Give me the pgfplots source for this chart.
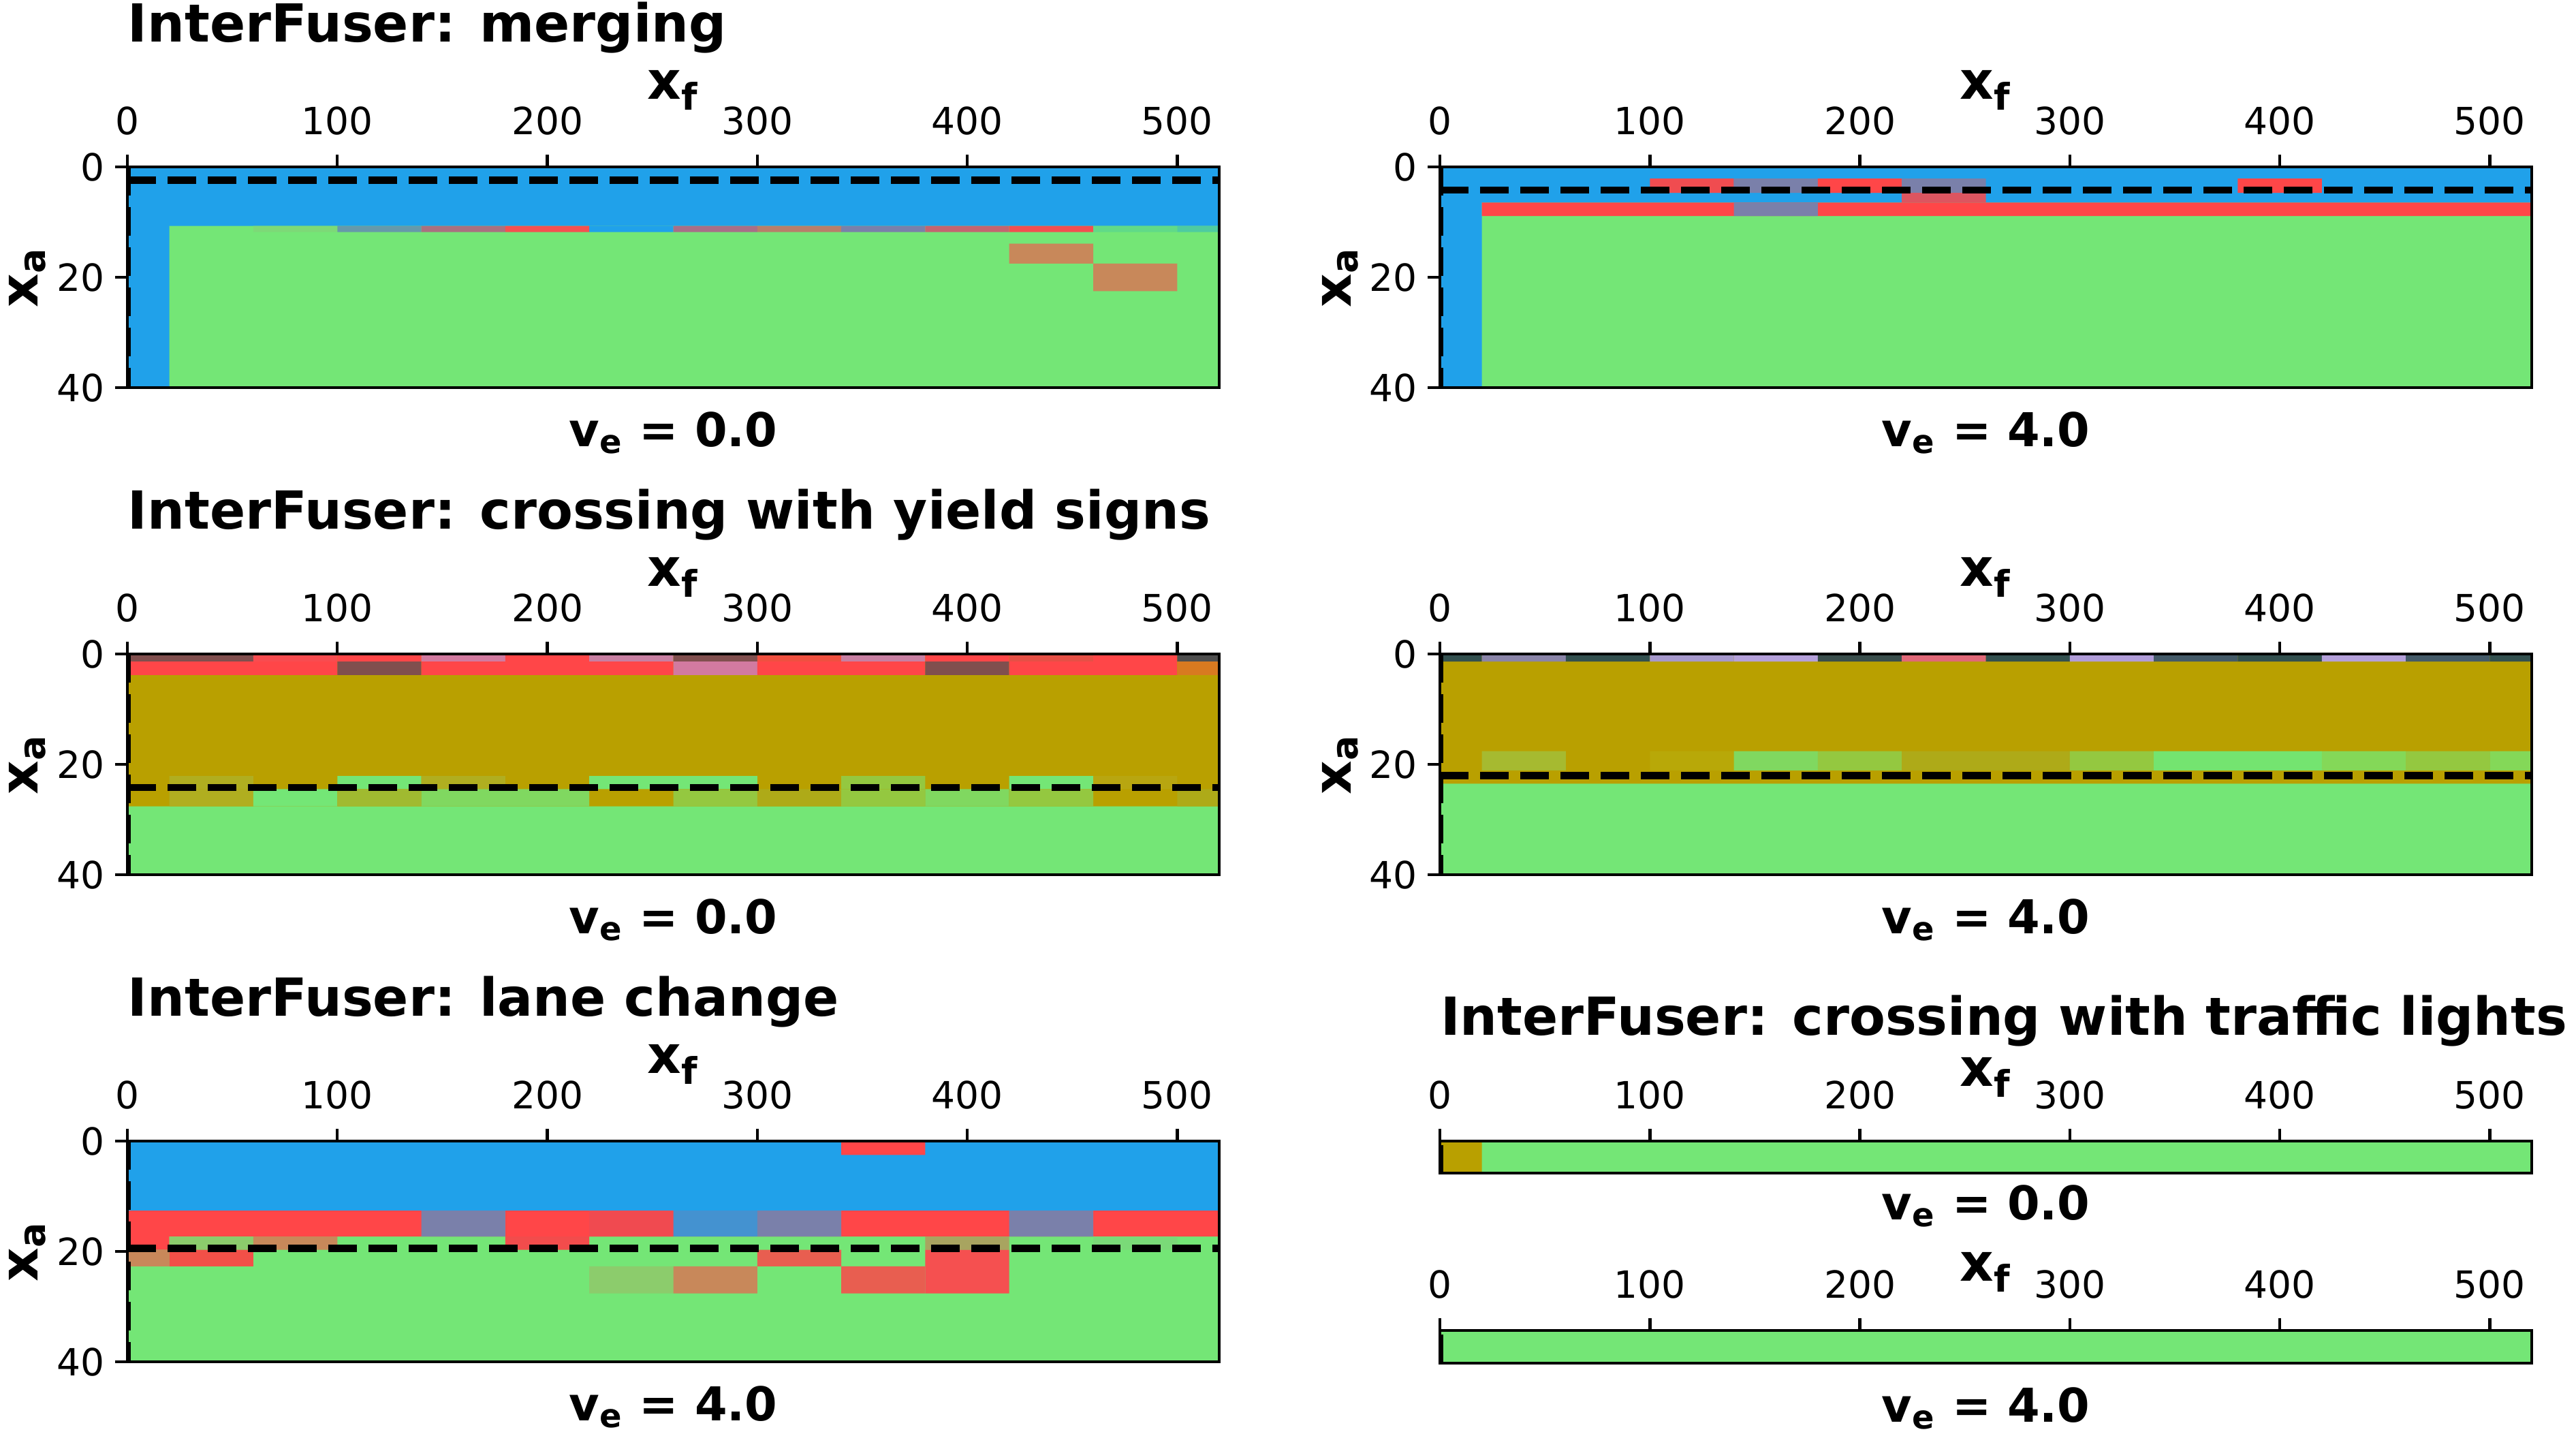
\documentclass[border=0pt]{standalone}
\usepackage{fontspec}
\setmainfont{DejaVu Sans}
\usepackage{pgfplots}
\pgfplotsset{compat=1.18}

\definecolor{G}{RGB}{116,230,118}
\definecolor{B}{RGB}{32,161,234}
\definecolor{R}{RGB}{255,70,72}
\definecolor{O}{RGB}{185,160,0}
\definecolor{Br}{RGB}{200,136,90}
\definecolor{Sl}{RGB}{122,128,170}
\definecolor{Mv}{RGB}{170,112,128}
\definecolor{Db}{RGB}{128,79,78}
\definecolor{Pk}{RGB}{210,122,160}
\definecolor{Tl}{RGB}{51,80,79}
\definecolor{pia}{RGB}{125,217,119}
\definecolor{pib}{RGB}{102,153,170}
\definecolor{pic}{RGB}{245,80,80}
\definecolor{pid}{RGB}{168,110,136}
\definecolor{pie}{RGB}{184,126,106}
\definecolor{pif}{RGB}{196,100,112}
\definecolor{pig}{RGB}{242,78,80}
\definecolor{pih}{RGB}{96,218,136}
\definecolor{pii}{RGB}{78,203,160}
\definecolor{piia}{RGB}{240,76,80}
\definecolor{piib}{RGB}{220,85,96}
\definecolor{piiia}{RGB}{248,76,80}
\definecolor{piiib}{RGB}{200,127,162}
\definecolor{piiic}{RGB}{240,80,64}
\definecolor{piiid}{RGB}{230,80,70}
\definecolor{piiie}{RGB}{78,78,78}
\definecolor{piiif}{RGB}{216,122,32}
\definecolor{ygA}{RGB}{176,174,32}
\definecolor{ygB}{RGB}{148,200,64}
\definecolor{ygC}{RGB}{184,166,16}
\definecolor{ygD}{RGB}{160,186,48}
\definecolor{ygE}{RGB}{128,216,96}
\definecolor{ygF}{RGB}{174,170,24}
\definecolor{pIVa}{RGB}{138,132,168}
\definecolor{pIVb}{RGB}{166,152,204}
\definecolor{pIVc}{RGB}{180,160,218}
\definecolor{pIVd}{RGB}{58,78,76}
\definecolor{pIVe}{RGB}{224,104,120}
\definecolor{pIVf}{RGB}{176,156,216}
\definecolor{pIVg}{RGB}{68,90,104}
\definecolor{pIVh}{RGB}{166,186,48}
\definecolor{pIVi}{RGB}{184,168,8}
\definecolor{pIVj}{RGB}{116,228,112}
\definecolor{pIVk}{RGB}{132,216,88}
\definecolor{pVa}{RGB}{240,74,80}
\definecolor{pVb}{RGB}{68,146,208}
\definecolor{pVc}{RGB}{140,204,108}
\definecolor{pVd}{RGB}{242,76,76}
\definecolor{pVe}{RGB}{168,164,96}
\definecolor{pVf}{RGB}{122,218,120}
\definecolor{pVg}{RGB}{242,80,72}
\definecolor{pVh}{RGB}{232,94,80}
\definecolor{pVi}{RGB}{245,80,80}

% one heat-map cell block: x1 y1 x2 y2 colour
\newcommand{\cell}[5]{\addplot[draw=none,fill=#5,forget plot] coordinates {(#1,#2) (#3,#2) (#3,#4) (#1,#4) (#1,#2)};}
\newcommand{\hdl}[1]{\addplot[black,line width=2.13pt,dash pattern=on 8.3pt off 3.5pt,forget plot] coordinates {(0,#1) (520,#1)};}
\newcommand{\vdl}{\addplot[black,line width=2.13pt,dash pattern=on 8.3pt off 3.5pt,forget plot] coordinates {(0,0) (0,40)};}
\newcommand{\velab}[2]{\node[anchor=base,inner sep=0pt,yshift=-#2,font=\bfseries\fontsize{13.7}{16}\selectfont] at (axis description cs:0.5,0) {v\textsubscript{e} = #1};}

\pgfplotsset{
 hm/.style={
  scale only axis, width=320.6pt, height=64.8pt,
  anchor=north west,
  xmin=0,xmax=520,ymin=0,ymax=40,y dir=reverse,
  axis on top, clip mode=individual,
  xtick={0,100,200,300,400,500}, ytick={0,20,40},
  xtick pos=right, xticklabel pos=right, ytick pos=left,
  tick align=outside, major tick length=3.6pt,
  tick style={line width=0.88pt,black},
  axis line style={line width=0.88pt},
  ticklabel style={font=\fontsize{11}{13}\selectfont},
  xticklabel style={yshift=2.3pt},
  yticklabel style={xshift=0.4pt},
  /pgf/number format/assume math mode=true,
  xlabel={\textbf{x\textsubscript{f}}},
  xlabel style={at={([yshift=20pt]axis description cs:0.5,1)},anchor=base,font=\fontsize{15.4}{18}\selectfont},
  ylabel={\textbf{x\textsubscript{a}}},
  ylabel style={at={([xshift=-26.2pt]axis description cs:0,0.5)},anchor=base,font=\fontsize{15.4}{18}\selectfont},
  title style={at={([yshift=36.8pt]axis description cs:0,1)},anchor=base west,yshift=-6pt,inner xsep=0pt,font=\bfseries\fontsize{15.4}{18}\selectfont},
 },
 xlab/.style={xlabel style={at={([yshift=#1]axis description cs:0.5,1)}}},
 tit/.style={title style={at={([yshift=#1]axis description cs:0,1)}}},
 thinax/.style={hm, ymax=1, ytick=\empty, ylabel={}},
}

\begin{document}
\begin{tikzpicture}
\path[use as bounding box] (0,0) rectangle (756.4pt,-420.8pt);

% ---------------- merging, v=0
\begin{axis}[hm, at={(37.4pt,-49pt)}, title={InterFuser: merging}]
\cell{0}{0}{520}{40}{G}
\cell{0}{0}{520}{10.7}{B}
\cell{0}{0}{20}{40}{B}
\cell{220}{10.7}{260}{11.8}{B}
\cell{60}{10.7}{100}{11.8}{pia}
\cell{100}{10.7}{140}{11.8}{pib}
\cell{140}{10.7}{180}{11.8}{Mv}
\cell{180}{10.7}{220}{11.8}{pic}
\cell{260}{10.7}{300}{11.8}{pid}
\cell{300}{10.7}{340}{11.8}{pie}
\cell{340}{10.7}{380}{11.8}{Sl}
\cell{380}{10.7}{420}{11.8}{pif}
\cell{420}{10.7}{460}{11.8}{pig}
\cell{460}{10.7}{500}{11.8}{pih}
\cell{500}{10.7}{520}{11.8}{pii}
\cell{420}{13.9}{460}{17.5}{Br}
\cell{460}{17.5}{500}{22.5}{Br}
\hdl{2.4}
\vdl
\velab{0.0}{17.2pt}
\end{axis}

% ---------------- merging, v=4
\begin{axis}[hm, at={(422.8pt,-49pt)}]
\cell{0}{0}{520}{40}{G}
\cell{0}{0}{520}{6.45}{B}
\cell{0}{0}{20}{40}{B}
\cell{100}{2.1}{140}{4.7}{piia}
\cell{140}{2.1}{180}{4.7}{Sl}
\cell{180}{2.1}{220}{4.7}{R}
\cell{220}{2.1}{260}{4.7}{Sl}
\cell{380}{2.1}{420}{4.7}{R}
\cell{220}{4.7}{260}{6.45}{piib}
\cell{20}{6.45}{520}{8.9}{R}
\cell{140}{6.45}{180}{8.9}{Sl}
\hdl{4.2}
\vdl
\velab{4.0}{17.2pt}
\end{axis}

% ---------------- crossing with yield signs, v=0
\begin{axis}[hm, at={(37.4pt,-192pt)}, title={InterFuser: crossing with yield signs}]
\cell{0}{0}{520}{40}{G}
\cell{0}{0}{520}{27.6}{O}
% row 0-1.36
\cell{0}{0}{60}{1.36}{Db}
\cell{60}{0}{100}{1.36}{piiia}
\cell{100}{0}{140}{1.36}{R}
\cell{140}{0}{180}{1.36}{Pk}
\cell{180}{0}{220}{1.36}{R}
\cell{220}{0}{260}{1.36}{piiib}
\cell{260}{0}{300}{1.36}{Db}
\cell{300}{0}{340}{1.36}{piiic}
\cell{340}{0}{380}{1.36}{piiib}
\cell{380}{0}{420}{1.36}{R}
\cell{420}{0}{460}{1.36}{piiid}
\cell{460}{0}{500}{1.36}{R}
\cell{500}{0}{520}{1.36}{piiie}
% row 1.36-3.8
\cell{0}{1.36}{100}{3.8}{R}
\cell{100}{1.36}{140}{3.8}{Db}
\cell{140}{1.36}{260}{3.8}{R}
\cell{260}{1.36}{300}{3.8}{Pk}
\cell{300}{1.36}{380}{3.8}{R}
\cell{380}{1.36}{420}{3.8}{Db}
\cell{420}{1.36}{500}{3.8}{R}
\cell{500}{1.36}{520}{3.8}{piiif}
% row 22.1-24.5
\cell{20}{22.1}{60}{24.5}{ygA}
\cell{100}{22.1}{140}{24.5}{G}
\cell{140}{22.1}{180}{24.5}{ygA}
\cell{220}{22.1}{300}{24.5}{G}
\cell{340}{22.1}{380}{24.5}{ygB}
\cell{420}{22.1}{460}{24.5}{G}
\cell{460}{22.1}{500}{24.5}{ygC}
% row 24.5-27.6
\cell{20}{24.5}{60}{27.6}{ygA}
\cell{60}{24.5}{100}{27.6}{G}
\cell{100}{24.5}{140}{27.6}{ygD}
\cell{140}{24.5}{220}{27.6}{ygE}
\cell{260}{24.5}{300}{27.6}{ygB}
\cell{300}{24.5}{340}{27.6}{ygF}
\cell{340}{24.5}{380}{27.6}{ygB}
\cell{380}{24.5}{420}{27.6}{ygE}
\cell{420}{24.5}{460}{27.6}{ygB}
\cell{500}{24.5}{520}{27.6}{ygF}
\hdl{24.2}
\vdl
\velab{0.0}{17.2pt}
\end{axis}

% ---------------- crossing with yield signs, v=4
\begin{axis}[hm, at={(422.8pt,-192pt)}]
\cell{0}{0}{520}{40}{G}
\cell{0}{0}{520}{23.5}{O}
% row 0-1.36
\cell{0}{0}{20}{1.36}{Tl}
\cell{20}{0}{60}{1.36}{pIVa}
\cell{60}{0}{100}{1.36}{Tl}
\cell{100}{0}{140}{1.36}{pIVb}
\cell{140}{0}{180}{1.36}{pIVc}
\cell{180}{0}{220}{1.36}{pIVd}
\cell{220}{0}{260}{1.36}{pIVe}
\cell{260}{0}{300}{1.36}{Tl}
\cell{300}{0}{340}{1.36}{pIVf}
\cell{340}{0}{380}{1.36}{pIVg}
\cell{380}{0}{420}{1.36}{Tl}
\cell{420}{0}{460}{1.36}{pIVc}
\cell{460}{0}{500}{1.36}{pIVg}
\cell{500}{0}{520}{1.36}{Tl}
% row 17.6-21.1
\cell{20}{17.6}{60}{21.1}{pIVh}
\cell{100}{17.6}{140}{21.1}{pIVi}
\cell{140}{17.6}{180}{21.1}{ygE}
\cell{180}{17.6}{220}{21.1}{ygB}
\cell{220}{17.6}{300}{21.1}{ygF}
\cell{300}{17.6}{340}{21.1}{ygB}
\cell{340}{17.6}{420}{21.1}{pIVj}
\cell{420}{17.6}{460}{21.1}{pIVk}
\cell{460}{17.6}{500}{21.1}{ygB}
\cell{500}{17.6}{520}{21.1}{pIVk}
\hdl{22}
\vdl
\velab{4.0}{17.2pt}
\end{axis}

% ---------------- lane change, v=4
\begin{axis}[hm, at={(37.4pt,-335pt)}, title={InterFuser: lane change}]
\cell{0}{0}{520}{40}{G}
\cell{0}{0}{520}{12.6}{B}
\cell{340}{0}{380}{2.5}{R}
% row 12.6-17.3
\cell{0}{12.6}{520}{17.3}{R}
\cell{140}{12.6}{180}{17.3}{Sl}
\cell{220}{12.6}{260}{17.3}{pVa}
\cell{260}{12.6}{300}{17.3}{pVb}
\cell{300}{12.6}{340}{17.3}{Sl}
\cell{420}{12.6}{460}{17.3}{Sl}
% row 17.3-19.7
\cell{0}{17.3}{20}{19.7}{R}
\cell{20}{17.3}{60}{19.7}{pVc}
\cell{60}{17.3}{100}{19.7}{Br}
\cell{180}{17.3}{220}{19.7}{pVd}
\cell{380}{17.3}{420}{19.7}{pVe}
\cell{460}{17.3}{500}{19.7}{pVf}
% row 19.7-22.7
\cell{0}{19.7}{20}{22.7}{Br}
\cell{20}{19.7}{60}{22.7}{pVg}
\cell{300}{19.7}{340}{22.7}{pVh}
\cell{380}{19.7}{420}{22.7}{pVi}
% row 22.7-27.6
\cell{220}{22.7}{260}{27.6}{pVc}
\cell{260}{22.7}{300}{27.6}{Br}
\cell{340}{22.7}{380}{27.6}{pVh}
\cell{380}{22.7}{420}{27.6}{pVi}
\hdl{19.4}
\vdl
\velab{4.0}{17.2pt}
\end{axis}

% ---------------- crossing with traffic lights, v=0
\begin{axis}[thinax, height=9.4pt, at={(422.8pt,-335pt)}, title={InterFuser: crossing with traffic lights}, tit=31.2pt, xlab=16.2pt]
\cell{0}{0}{520}{1}{G}
\cell{0}{0}{20}{1}{O}
\addplot[black,line width=2.13pt,forget plot] coordinates {(0,0.12) (0,0.95)};
\velab{0.0}{13.6pt}
\end{axis}

% ---------------- crossing with traffic lights, v=4
\begin{axis}[thinax, height=9.6pt, at={(422.8pt,-390.6pt)}, xlab=14.6pt]
\cell{0}{0}{520}{1}{G}
\addplot[black,line width=2.13pt,forget plot] coordinates {(0,0.12) (0,0.95)};
\velab{4.0}{17.2pt}
\end{axis}
\end{tikzpicture}
\end{document}
